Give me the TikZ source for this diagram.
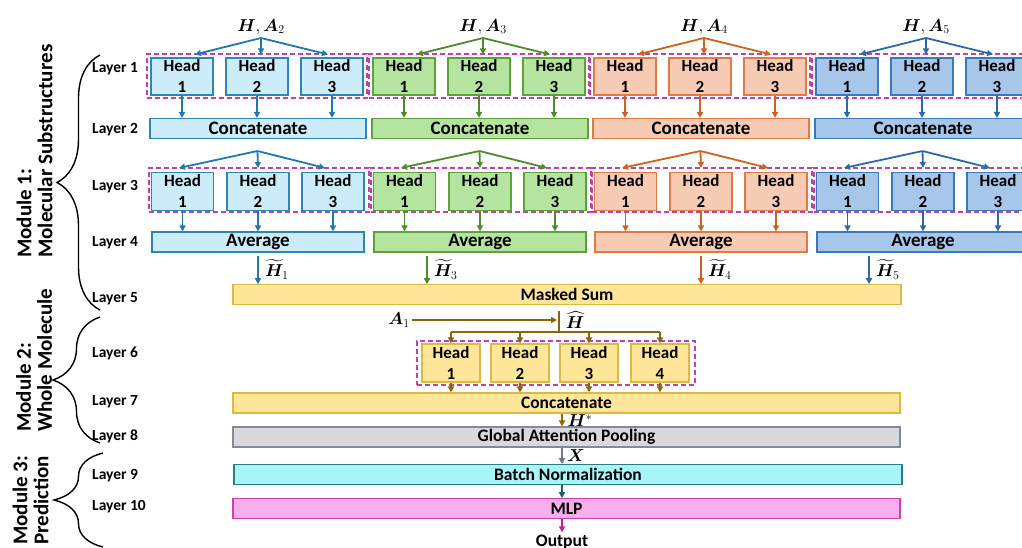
\documentclass[tikz,border=0pt]{standalone}
\usepackage{amsmath}
\usepackage{bm}
\usepackage{fontspec}
\setmainfont{Carlito}
\usetikzlibrary{arrows.meta,decorations.pathreplacing,calc}

\definecolor{c1f}{RGB}{204,236,250}\definecolor{c1d}{RGB}{46,134,184}\definecolor{c1a}{RGB}{31,119,180}
\definecolor{c2f}{RGB}{181,227,160}\definecolor{c2d}{RGB}{95,160,60}\definecolor{c2a}{RGB}{78,139,42}
\definecolor{c3f}{RGB}{248,203,180}\definecolor{c3d}{RGB}{224,123,69}\definecolor{c3a}{RGB}{210,96,30}
\definecolor{c4f}{RGB}{166,198,234}\definecolor{c4d}{RGB}{59,120,184}\definecolor{c4a}{RGB}{46,104,168}
\definecolor{yf}{RGB}{255,230,153}\definecolor{yd}{RGB}{222,184,64}\definecolor{ya}{RGB}{139,101,8}
\definecolor{gf}{RGB}{217,217,217}\definecolor{gd}{RGB}{128,140,155}\definecolor{xa}{RGB}{106,122,144}
\definecolor{cf}{RGB}{166,245,248}\definecolor{cd}{RGB}{46,123,128}\definecolor{ca}{RGB}{31,95,102}
\definecolor{pf}{RGB}{248,174,234}\definecolor{pd}{RGB}{208,64,176}\definecolor{pa}{RGB}{192,32,154}
\definecolor{dm}{RGB}{192,64,176}

\newcommand\fHead{\bfseries\fontsize{17}{21}\selectfont}
\newcommand\fBar{\bfseries\fontsize{19}{21}\selectfont}
\newcommand\fBot{\bfseries\fontsize{17.5}{20}\selectfont}
\newcommand\fLay{\bfseries\fontsize{15.5}{18}\selectfont}
\newcommand\fMod{\bfseries\fontsize{21}{21}\selectfont}
\newcommand\fMath{\fontsize{18}{20}\selectfont}

\begin{document}
\begin{tikzpicture}[x=1pt,y=-1pt,
  hb/.style={draw, line width=1.1pt, minimum width=62, minimum height=37, inner sep=0pt, align=center, font=\fHead},
  bar/.style={draw, line width=1.1pt, minimum height=20, inner sep=0pt, font=\fBar},
  botbar/.style={draw, line width=1.1pt, minimum height=19.5, inner sep=0pt, font=\fBot},
  dbox/.style={draw=dm, dash pattern=on 5pt off 3pt, line width=1.3pt, inner sep=0pt},
  arr/.style={line width=1.8pt, -{Triangle[length=6pt,width=6pt]}},
  lay/.style={font=\fLay, anchor=base west, inner sep=0pt},
  mlab/.style={font=\fMath, inner sep=0pt},
  brc/.style={decorate, line width=1.4pt, decoration={brace, amplitude=#1}},
  modl/.style={font=\fMod, rotate=90, align=left, anchor=west, inner sep=0pt},
]
\useasboundingbox (0,0) rectangle (1022,547);
\clip (0,0) rectangle (1022,547);

% module labels and braces
\node[modl] (mod1) at (34.5,258) {Module 1:\\Molecular Substructures};
\node[modl] (mod2) at (34,432) {Module 2:\\Whole Molecule};
\node[modl] (mod3) at (30.5,545) {Module 3:\\Prediction};
\draw[brc=43pt] (100,310) -- (100,55);
\draw[brc=47pt] (100,443) -- (100,317);
\draw[brc=49pt] (103,547) -- (103,453);

% layer labels
\foreach \n/\y in {1/72.7,2/133,3/190,4/246,5/302,6/357,7/405,8/440,9/479,10/510}
  \node[lay] (lay\n) at (92,\y) {Layer \n};

% four substructure groups
\foreach \g/\s/\b/\dx/\cf/\cd/\ca in {1/2/182/76/c1f/c1d/c1a, 2/3/404/23/c2f/c2d/c2a, 3/4/625/76/c3f/c3d/c3a, 4/5/847/22/c4f/c4d/c4a}{
  \node[mlab] (hl\g) at (\b+79,27) {$\bm{H},\bm{A}_{\s}$};
  \coordinate (o\g) at (\b+79,38);
  \node[dbox, minimum width=220, minimum height=44] (d\g) at (\b+75,76) {};
  \node[bar, fill=\cf, draw=\cd, minimum width=216] (c\g) at (\b+76,128.5) {Concatenate};
  \coordinate (p\g) at (\b+75.5,151);
  \node[dbox, minimum width=220, minimum height=44] (e\g) at (\b+77,190) {};
  \node[bar, fill=\cf, draw=\cd, minimum width=212] (v\g) at (\b+76,242) {Average};
  \foreach \i/\xo/\to/\xt/\tt in {1/0/13/0.5/-3.5, 2/75/4/76/0, 3/150/-4/151/-8}{
    \node[hb, fill=\cf, draw=\cd] (a\g\i) at (\b+\xo,76.5) {Head\\\i};
    \draw[arr, color=\ca] (o\g) -- ($(a\g\i.north)+(\to,-3)$);
    \draw[arr, color=\ca] (a\g\i.south) -- (c\g.north -| a\g\i.south);
    \node[hb, fill=\cf, draw=\cd, minimum height=38] (b\g\i) at (\b+\xt,191.5) {Head\\\i};
    \draw[arr, color=\ca] (p\g) -- ($(b\g\i.north)+(\tt,-4)$);
    \draw[arr, color=\ca] (b\g\i.south) -- (v\g.north -| b\g\i.south);
  }
  \coordinate (t\g) at (\b+\dx,0);
}

% layer 5
\node[botbar, fill=yf, draw=yd, minimum width=668] (ms) at (567,294.5) {Masked Sum};
\foreach \g/\s in {1/1,2/3,3/4,4/5}{
  \draw[arr, color=c\g a, shorten <=3pt] (v\g.south -| t\g) -- (ms.north -| t\g);
  \node[mlab, anchor=west] (ht\g) at ($(ms.north -| t\g)+(7,-15)$) {$\widetilde{\bm{H}}_{\s}$};
}

% layer 6
\node[mlab] (a1) at (399,320) {$\bm{A}_1$};
\coordinate (vt) at (559,311);
\coordinate (vb) at (559,332);
\draw[arr, color=ya, shorten >=2pt] ([xshift=2pt]a1.east) -- (a1.east -| vt);
\draw[line width=1.8pt, ya] (vt) -- (vb);
\node[mlab] (hh) at (575,320) {$\widehat{\bm{H}}$};
\node[dbox, minimum width=278, minimum height=44] (dm) at (556,363) {};
\foreach \i/\x in {1/451,2/520,3/589,4/660}
  \node[hb, fill=yf, draw=yd, minimum width=58, minimum height=38] (m\i) at (\x,363) {Head\\\i};
\draw[line width=1.8pt, ya] (m1.north |- vb) -- (m4.north |- vb);

% layers 7-10
\node[botbar, fill=yf, draw=yd, minimum width=667, minimum height=20] (cc) at (566.5,403) {Concatenate};
\node[botbar, fill=gf, draw=gd, minimum width=667, minimum height=20] (gap) at (566.5,437) {Global Attention Pooling};
\node[botbar, fill=cf, draw=cd, minimum width=668] (bn) at (568,474.5) {Batch Normalization};
\node[botbar, fill=pf, draw=pd, minimum width=667] (mlp) at (566.5,508.5) {MLP};
\node[font=\fBot, anchor=base, inner sep=0pt] (out) at (562,546) {Output};

\foreach \i in {1,...,4}{
  \draw[arr, color=ya] (m\i.north |- vb) -- (m\i.north);
  \draw[arr, color=ya] (m\i.south) -- (cc.north -| m\i.south);
}
\coordinate (cx) at (562,0);
\draw[arr, color=ya] (cc.south -| cx) -- (gap.north -| cx);
\node[mlab] (hs) at (580,421) {$\bm{H}^{*}$};
\draw[arr, color=xa] (gap.south -| cx) -- (bn.north -| cx);
\node[mlab] (xl) at (576,456) {$\bm{X}$};
\draw[arr, color=ca] (bn.south -| cx) -- (mlp.north -| cx);
\draw[arr, color=pa, shorten >=2pt] (mlp.south -| cx) -- (out.north);
\end{tikzpicture}
\end{document}
